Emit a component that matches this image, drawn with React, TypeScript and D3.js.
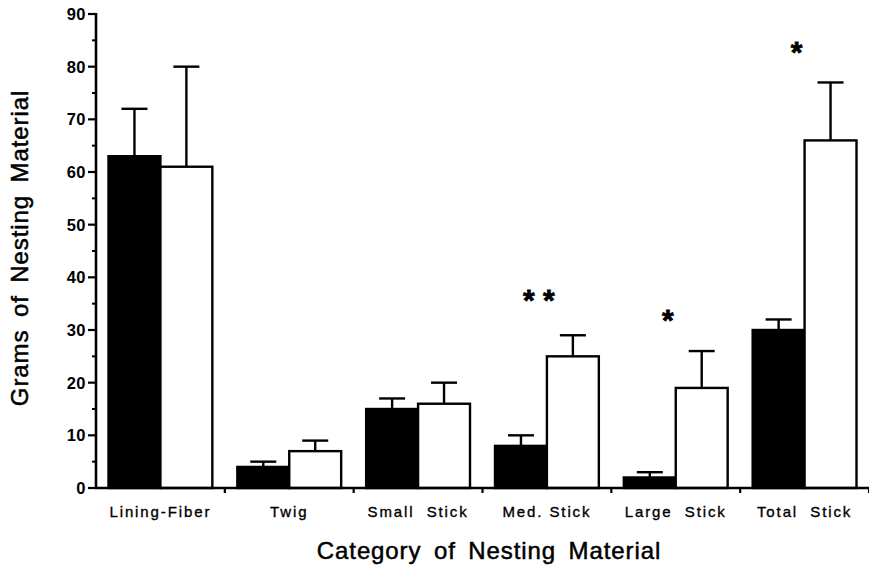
import React from "react";
import * as d3 from "d3";

const categories = ["Lining-Fiber", "Twig", "Small  Stick", "Med. Stick", "Large  Stick", "Total  Stick"];
const series = ["black", "white"];
const blackValues = [63, 4, 15, 8, 2, 30];
const blackErrors = [72, 5, 17, 10, 3, 32];
const whiteValues = [61, 7, 16, 25, 19, 66];
const whiteErrors = [80, 9, 20, 29, 26, 77];
const significance = ["", "", "", "* *", "*", "*"];
const significanceLevel = [0, 0, 0, 36.6, 32.8, 83.7];
const yTicks = [0, 10, 20, 30, 40, 50, 60, 70, 80, 90];
const yMinorTicks = [5, 15, 25, 35, 45, 55, 65, 75, 85];

const W = 869;
const H = 567;
const left = 96;
const right = 869;
const top = 14;
const bottom = 488;

export default function App() {
  const y = d3.scaleLinear().domain([0, 90]).range([bottom, top]);
  const x0 = d3.scaleBand<string>().domain(categories).range([left, right]).padding(0);
  const pad = 12.5;
  const x1 = d3
    .scaleBand<string>()
    .domain(series)
    .range([pad, x0.bandwidth() - pad])
    .padding(0);
  const bw = x1.bandwidth();
  const cap = 26;
  const font = "'Liberation Sans', Arial, Helvetica, sans-serif";

  const rows = categories.map((c, i) => ({
    c,
    vals: [
      { s: "black", v: blackValues[i], e: blackErrors[i] },
      { s: "white", v: whiteValues[i], e: whiteErrors[i] },
    ],
    sig: significance[i],
    level: significanceLevel[i],
  }));

  return (
    <div style={{ position: "absolute", left: 0, top: 0 }}>
      <svg width={W} height={H} style={{ display: "block", background: "#fff" }}>
        <g fontFamily={font}>
          {rows.map((r) => (
            <g key={r.c} transform={`translate(${x0(r.c)},0)`}>
              {r.vals.map((d) => {
                const bx = x1(d.s)!;
                const cx = bx + bw / 2;
                return (
                  <g key={d.s}>
                    <line x1={cx} x2={cx} y1={y(d.v)} y2={y(d.e)} stroke="#000" strokeWidth={2.4} />
                    <line x1={cx - cap / 2} x2={cx + cap / 2} y1={y(d.e)} y2={y(d.e)} stroke="#000" strokeWidth={2.4} />
                    <rect
                      x={bx}
                      y={y(d.v)}
                      width={bw}
                      height={y(0) - y(d.v)}
                      fill={d.s === "black" ? "#000" : "#fff"}
                      stroke="#000"
                      strokeWidth={2.4}
                    />
                  </g>
                );
              })}
              {r.sig && (
                <text
                  x={x0.bandwidth() / 2 - 8}
                  y={y(r.level) + 14.6}
                  textAnchor="middle"
                  fontSize={30}
                  fontWeight="bold"
                  stroke="#000"
                  strokeWidth={0.8}
                  style={{ whiteSpace: "pre" }}
                >
                  {r.sig}
                </text>
              )}
              <text
                x={x0.bandwidth() / 2}
                y={517}
                textAnchor="middle"
                fontSize={15}
                letterSpacing={1.9}
                stroke="#000"
                strokeWidth={0.35}
                style={{ whiteSpace: "pre" }}
              >
                {r.c}
              </text>
            </g>
          ))}

          {/* Y axis */}
          <line x1={left} x2={left} y1={top - 1} y2={bottom + 1} stroke="#000" strokeWidth={2.6} />
          {yTicks.map((t) => (
            <g key={t}>
              <line x1={left - 8} x2={left} y1={y(t)} y2={y(t)} stroke="#000" strokeWidth={2.2} />
              <text
                x={left - 10}
                y={y(t) + 6}
                textAnchor="end"
                fontSize={16.5}
                fontWeight="bold"
                letterSpacing={0.5}
              >
                {t}
              </text>
            </g>
          ))}
          {yMinorTicks.map((t) => (
            <line key={t} x1={left - 4} x2={left} y1={y(t)} y2={y(t)} stroke="#000" strokeWidth={2} />
          ))}

          {/* X axis */}
          <line x1={left - 1} x2={right} y1={bottom} y2={bottom} stroke="#000" strokeWidth={2.6} />
          {categories.map((c) => (
            <line
              key={c}
              x1={x0(c)! + x0.bandwidth()}
              x2={x0(c)! + x0.bandwidth()}
              y1={bottom}
              y2={bottom + 5}
              stroke="#000"
              strokeWidth={2.2}
            />
          ))}

          <text
            x={489}
            y={559}
            textAnchor="middle"
            fontSize={24}
            letterSpacing={0.9}
            wordSpacing={5}
            stroke="#000"
            strokeWidth={0.5}
          >
            Category of Nesting Material
          </text>
          <text
            transform={`translate(28,248) rotate(-90)`}
            textAnchor="middle"
            fontSize={24}
            letterSpacing={0.9}
            wordSpacing={5}
            stroke="#000"
            strokeWidth={0.5}
          >
            Grams of Nesting Material
          </text>
        </g>
      </svg>
    </div>
  );
}
